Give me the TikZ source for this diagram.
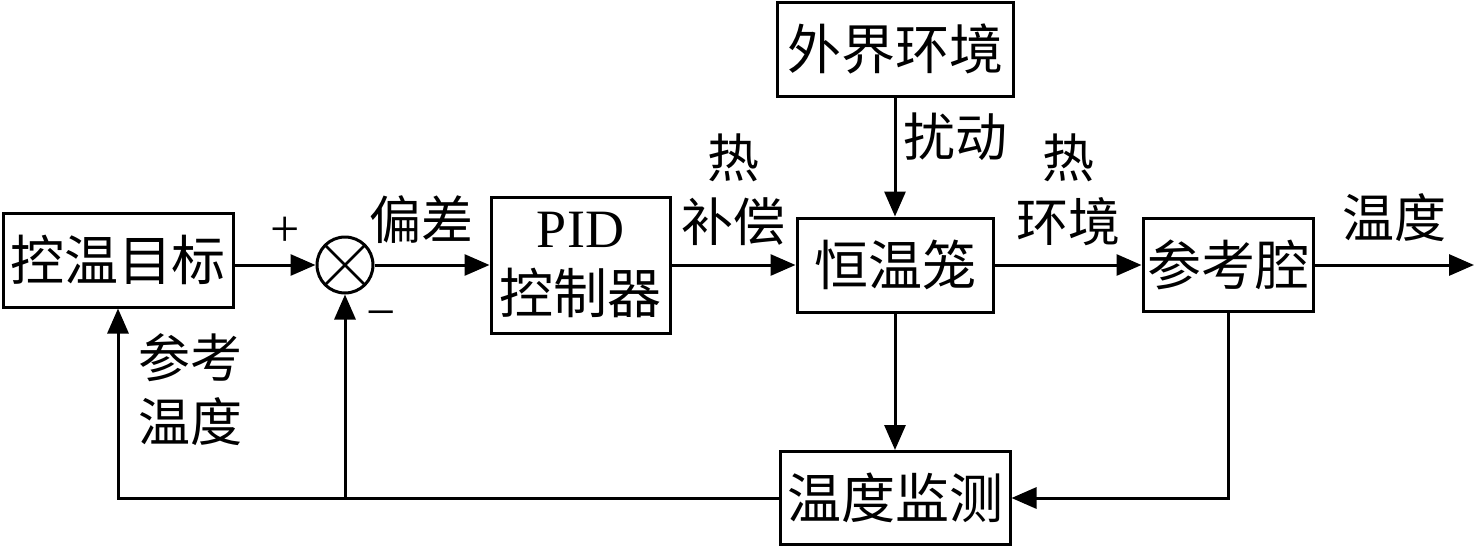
\documentclass[tikz,border=0pt]{standalone}
\usepackage{fontspec}
\setmainfont{Liberation Serif}
\newfontfamily\cjk{Noto Sans CJK SC}
\usetikzlibrary{arrows.meta}
\begin{document}
\begin{tikzpicture}[x=1pt,y=-1pt,
  box/.style={draw,line width=3pt,inner sep=0pt,align=center,font=\cjk\fontsize{54}{66}\selectfont},
  lab/.style={inner sep=0pt,align=center,font=\cjk\fontsize{52}{64}\selectfont},
  sign/.style={inner sep=0pt,font=\fontsize{52}{56}\selectfont},
  conn/.style={line width=3pt,-{Triangle[length=25pt,width=21pt]}},
  plain/.style={line width=3pt}]
\useasboundingbox (0,0) rectangle (1476,547);
\node[box,minimum width=230pt,minimum height=94pt] (kw) at (118,260) {控温目标};
\node[draw,line width=3pt,circle,minimum size=56pt,inner sep=0pt,
  path picture={\draw[line width=2.8pt] (path picture bounding box.north west) -- (path picture bounding box.south east)
  (path picture bounding box.north east) -- (path picture bounding box.south west);}] (sum) at (345,265) {};
\node[box,minimum width=179pt,minimum height=136pt] (pid) at (580.5,265) {{\fontspec{Liberation Serif}PID}\\控制器};
\node[box,minimum width=196pt,minimum height=94pt] (hw) at (895,265) {恒温笼};
\node[box,minimum width=236pt,minimum height=94pt] (wj) at (895,49) {外界环境};
\node[box,minimum width=170pt,minimum height=93pt] (ck) at (1228,265) {参考腔};
\node[box,minimum width=230pt,minimum height=93pt] (jc) at (895,498) {温度监测};
\coordinate (out) at (1474,265);
\coordinate (br) at (345,497);
% labels
\node[sign] (plus) at (285,232) {+};
\node[sign] (minus) at (381,320) {−};
\node[lab] (pc) at (421,220) {偏差};
\node[lab] (rbc) at (733,190) {热\\补偿};
\node[lab] (rd) at (955,137) {扰动};
\node[lab] (rhj) at (1068,190) {热\\环境};
\node[lab] (wd) at (1394,218) {温度};
\node[lab] (ckwd) at (190,390) {参考\\温度};
% connectors
\draw[conn] (kw.east |- sum.west) -- (sum.west);
\draw[conn] (sum.east) -- (pid.west);
\draw[conn] (pid.east |- hw.west) -- (hw.west);
\draw[conn] (wj.south) -- (hw.north);
\draw[conn] (hw.east) -- (ck.west);
\draw[conn] (ck.east) -- (out);
\draw[conn] (hw.south) -- (jc.north);
\draw[conn] (ck.south) |- (jc.east);
\draw[conn] (jc.west) -| (kw.south);
\draw[conn] (br) -- (sum.south);
\end{tikzpicture}
\end{document}
